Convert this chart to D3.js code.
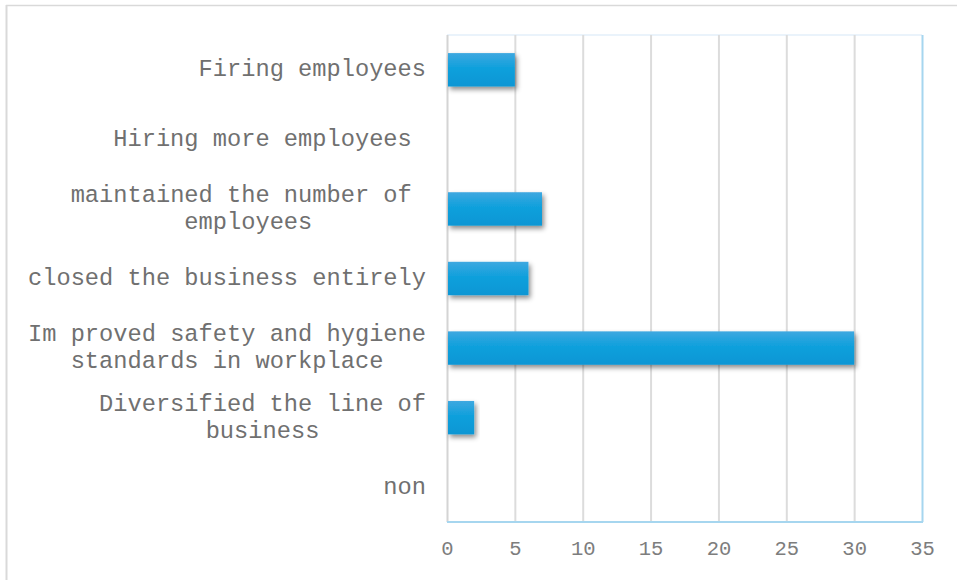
<!DOCTYPE html>
<html>
<head>
<meta charset="utf-8">
<script src="https://cdn.jsdelivr.net/npm/d3@7"></script>
<style>
  html, body { margin: 0; padding: 0; background: #ffffff; }
  svg { display: block; }
  .cat text { white-space: pre; }
</style>
</head>
<body>
<svg id="chart" width="957" height="580"></svg>
<script>
// Responses: what the business did (top to bottom)
const categories = [
  ["Firing employees"],
  ["Hiring more employees "],
  ["maintained the number of ", "employees"],
  ["closed the business entirely"],
  ["Im proved safety and hygiene", "standards in workplace"],
  ["Diversified the line of", "business"],
  ["non"]
];
const values = [5, 0, 7, 6, 30, 2, 0];
const tickValues = [0, 5, 10, 15, 20, 25, 30, 35];

const svg = d3.select("#chart");
const W = 957, H = 580;
const plot = { left: 447, right: 922, top: 35, bottom: 522 };
const labelRight = 426;
const font = "'Courier New', 'Liberation Mono', monospace";

const keys = categories.map((c, i) => i);
const x = d3.scaleLinear().domain([0, 35]).range([plot.left, plot.right]);
const y = d3.scaleBand().domain(keys).range([plot.top, plot.bottom])
  .paddingInner(0.52).paddingOuter(0.26);

const defs = svg.append("defs");
const grad = defs.append("linearGradient").attr("id", "barFill")
  .attr("x1", 0).attr("y1", 0).attr("x2", 0).attr("y2", 1);
grad.append("stop").attr("offset", "0%").attr("stop-color", "#3ea8e0");
grad.append("stop").attr("offset", "45%").attr("stop-color", "#0fa0dc");
grad.append("stop").attr("offset", "100%").attr("stop-color", "#0a96d4");
const shadow = defs.append("filter").attr("id", "barShadow")
  .attr("x", "-10%").attr("y", "-30%").attr("width", "130%").attr("height", "190%");
shadow.append("feDropShadow").attr("dx", 2).attr("dy", 3)
  .attr("stdDeviation", 2.6).attr("flood-color", "#000").attr("flood-opacity", 0.45);

// Outer frame (top and left edges)
svg.append("line").attr("x1", 6).attr("x2", W).attr("y1", 5.5).attr("y2", 5.5)
  .attr("stroke", "#d9d9d9").attr("stroke-width", 1.5);
svg.append("line").attr("x1", 6.5).attr("x2", 6.5).attr("y1", 5).attr("y2", H)
  .attr("stroke", "#d9d9d9").attr("stroke-width", 2);

// Plot area top border
svg.append("line").attr("x1", plot.left).attr("x2", plot.right)
  .attr("y1", plot.top).attr("y2", plot.top)
  .attr("stroke", "#eaf3fb").attr("stroke-width", 2);

// Vertical gridlines
const xAxis = d3.axisBottom(x).tickValues(tickValues).tickSize(-(plot.bottom - plot.top)).tickFormat(d => d);
const gx = svg.append("g").attr("transform", `translate(0,${plot.bottom})`).call(xAxis);
gx.select(".domain").remove();
gx.selectAll(".tick line")
  .attr("stroke", (d) => d === 35 ? "#a6d6ef" : (d === 0 ? "#d4d4d4" : "#dcdcdc"))
  .attr("stroke-width", 2);
gx.selectAll(".tick text")
  .attr("y", 27).attr("dy", "0.3em")
  .attr("fill", "#7d7d7d")
  .style("font-family", font).style("font-size", "20.5px");

// Bottom axis line
svg.append("line").attr("x1", plot.left).attr("x2", plot.right + 1)
  .attr("y1", plot.bottom).attr("y2", plot.bottom)
  .attr("stroke", "#a6d6ef").attr("stroke-width", 2);

// Bars
svg.append("g").selectAll("rect").data(keys).join("rect")
  .attr("x", x(0) + 1)
  .attr("y", i => y(i))
  .attr("width", i => Math.max(0, x(values[i]) - x(0) - 1))
  .attr("height", y.bandwidth())
  .attr("fill", "url(#barFill)")
  .attr("filter", "url(#barShadow)")
  .style("display", i => values[i] > 0 ? null : "none");

// Category labels: each block right-aligned, lines centred within the block
const lineH = 27;
const cat = svg.append("g").attr("class", "cat");
keys.forEach(i => {
  const lines = categories[i];
  const cy = y(i) + y.bandwidth() / 2;
  const t = cat.append("text")
    .attr("fill", "#707070")
    .style("font-family", font).style("font-size", "23.7px");
  lines.forEach((ln, j) => {
    t.append("tspan").text(ln)
      .attr("y", cy + (j - (lines.length - 1) / 2) * lineH)
      .attr("dy", "0.27em");
  });
  const widths = t.selectAll("tspan").nodes().map(n => n.getComputedTextLength());
  const maxW = d3.max(widths);
  t.attr("text-anchor", "middle");
  t.selectAll("tspan").attr("x", labelRight - maxW / 2);
});
</script>
</body>
</html>
